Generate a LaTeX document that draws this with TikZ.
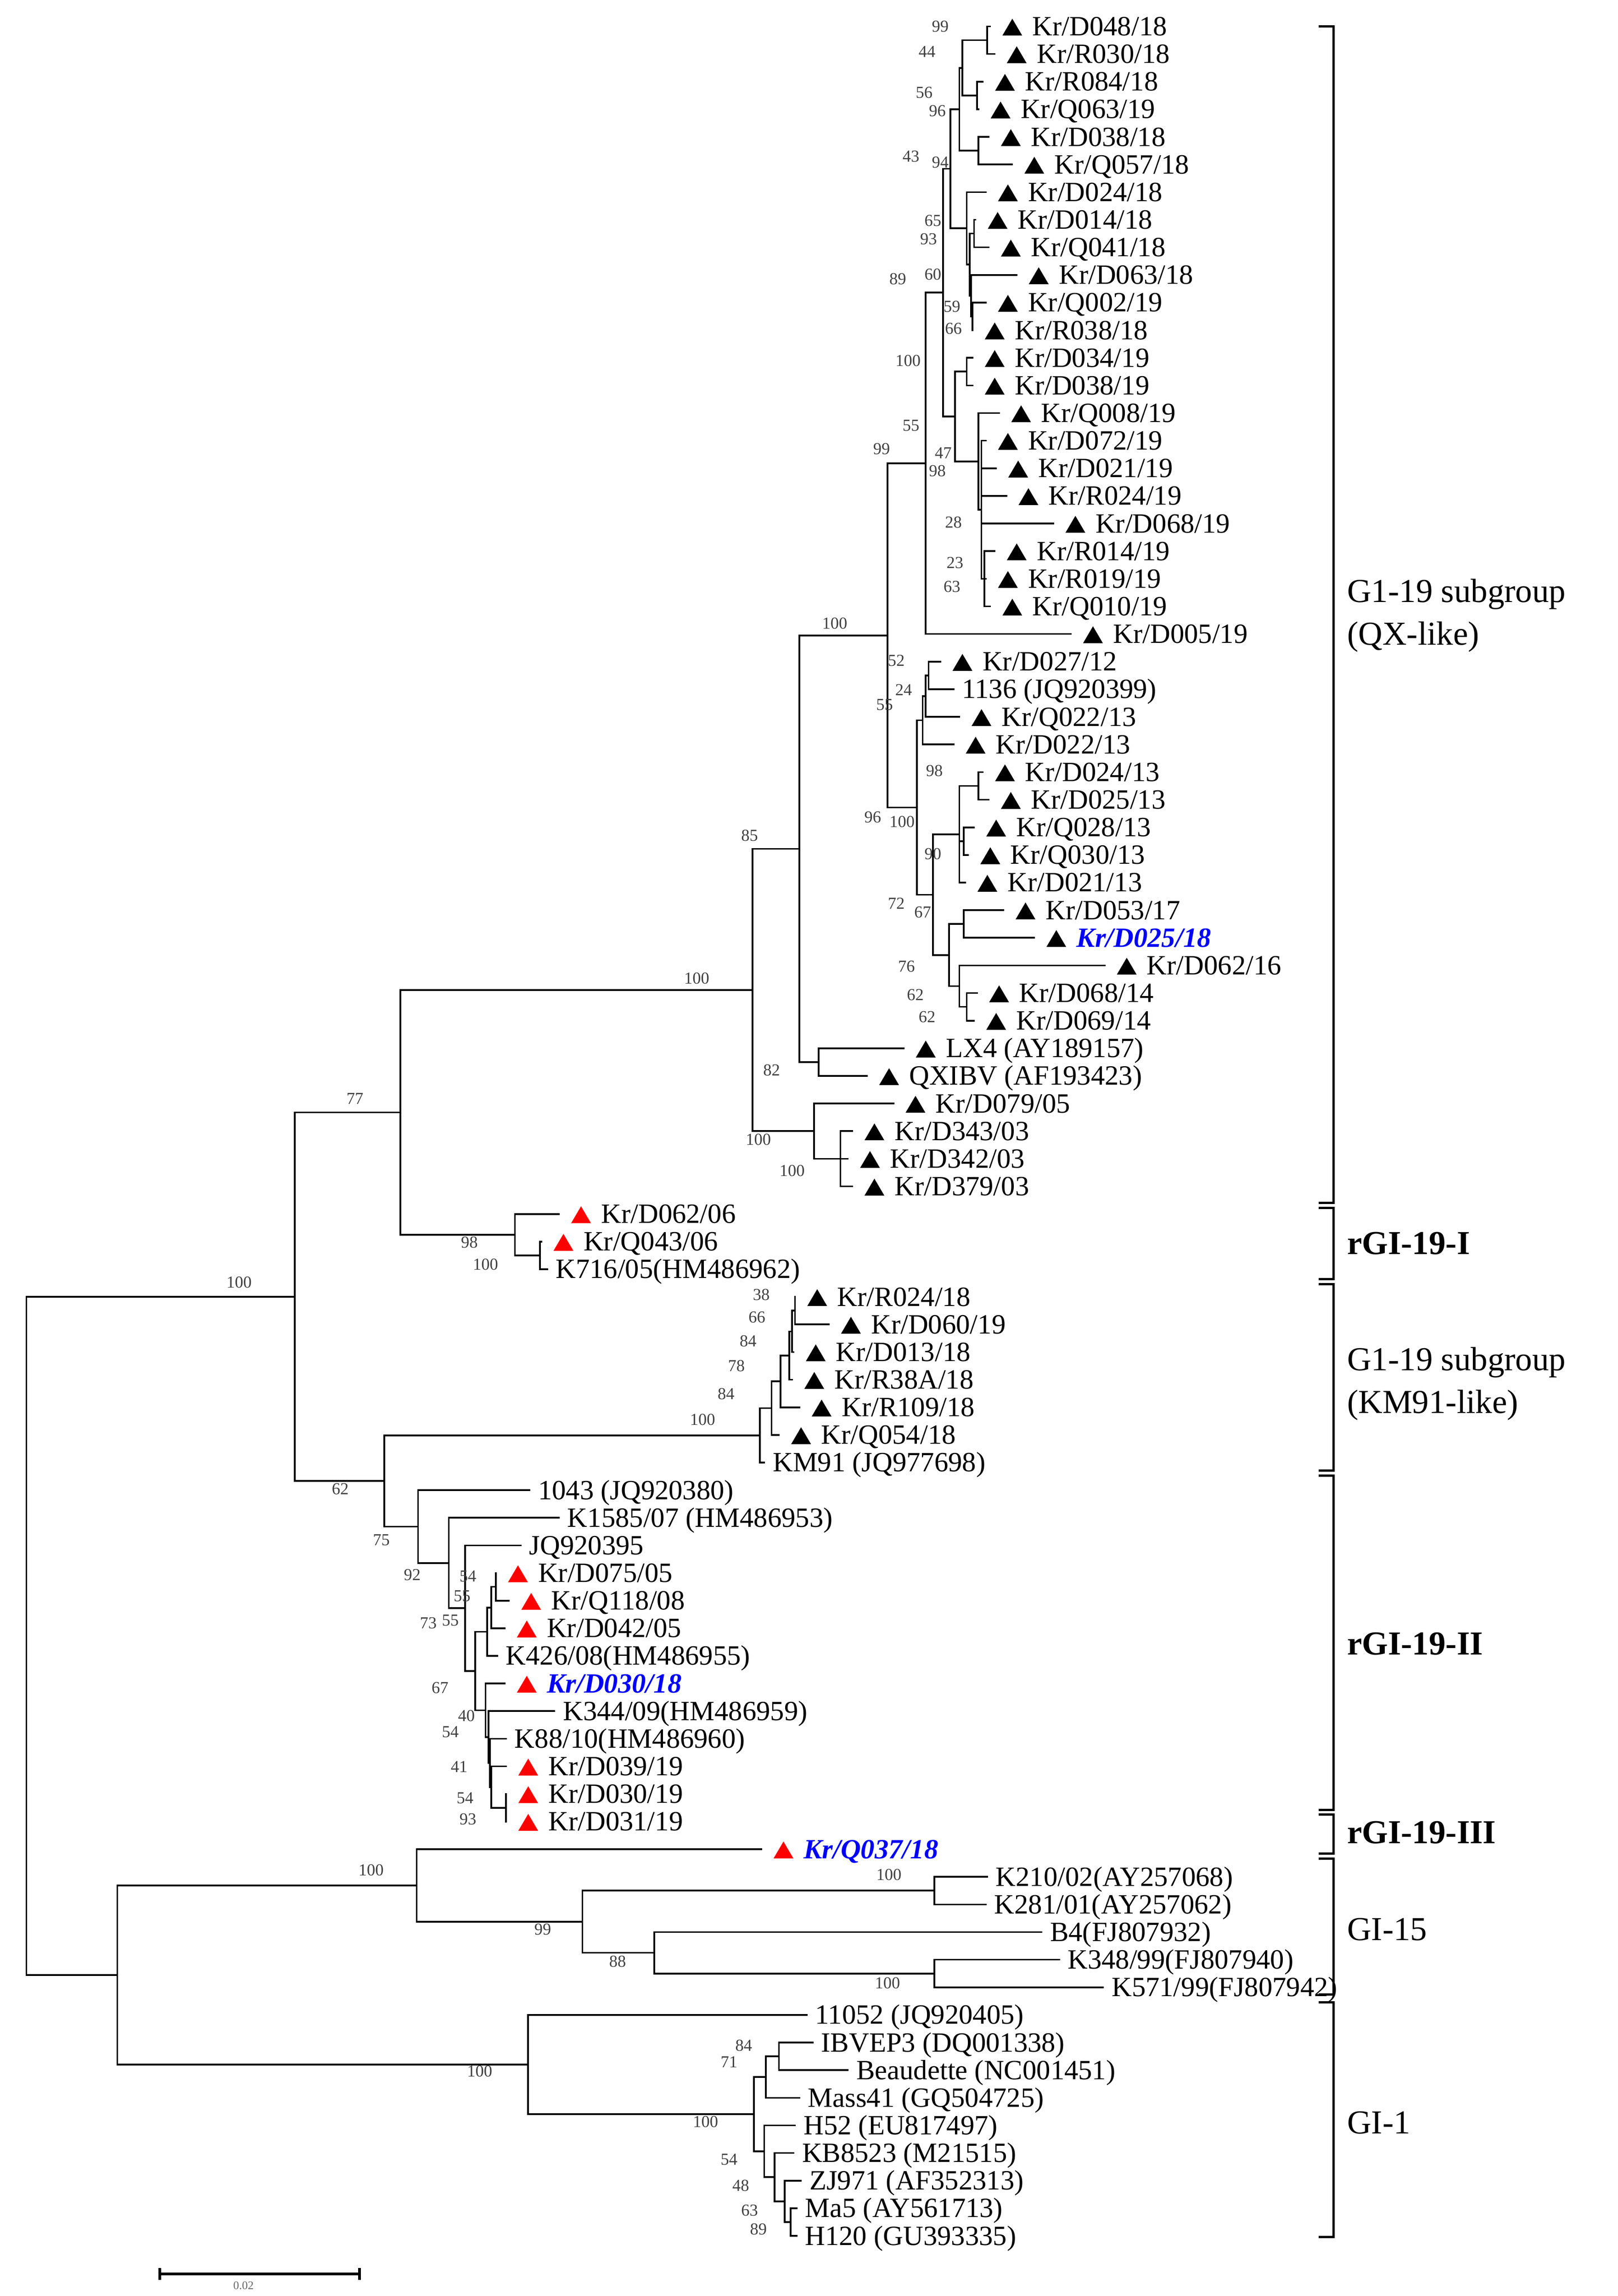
\documentclass[tikz,border=0pt]{standalone}
\usepackage{fontspec}
\setmainfont{Liberation Serif}
\usepackage{tikz}

\newcommand{\leaffont}{\fontsize{10.8pt}{12pt}\selectfont}
\newcommand{\bsfont}{\fontsize{6.5pt}{7pt}\selectfont}
\newcommand{\cladefont}{\fontsize{13pt}{16.5pt}\selectfont}
\newcommand{\tri}[1]{\tikz[baseline=0pt]\fill[#1] (0mm,0mm) -- (2.7mm,0mm) -- (1.35mm,2.3mm) -- cycle;}
\newcommand{\blk}{\hspace*{1.6mm}\tri{black}\hspace*{1.4mm}}
\newcommand{\redt}{\hspace*{1.6mm}\tri{red}\hspace*{1.4mm}}
\newcommand{\nomark}{\hspace*{1.1mm}}
\newcommand{\bluetxt}[1]{\textcolor{blue}{\bfseries\itshape #1}}

\tikzset{
  branch/.style={line width=0.65pt, line cap=rect},
  leaf/.style={anchor=west, inner sep=0pt, font=\leaffont, text height=2.5mm, text depth=0pt},
  bs/.style={font=\bsfont, text=black!75, inner sep=0pt},
  clade/.style={anchor=west, font=\cladefont, align=left, inner sep=0pt},
  bracket/.style={line width=0.9pt},
}

\begin{document}
\begin{tikzpicture}[x=0.2mm, y=-3.765mm]
\useasboundingbox (0,0.0438) rectangle (1103,83.178);

% leaves, one row each
\node[leaf] (l1) at (675,1) {\blk Kr/D048/18};
\node[leaf] (l2) at (678,2) {\blk Kr/R030/18};
\node[leaf] (l3) at (670,3) {\blk Kr/R084/18};
\node[leaf] (l4) at (667,4) {\blk Kr/Q063/19};
\node[leaf] (l5) at (674,5) {\blk Kr/D038/18};
\node[leaf] (l6) at (690,6) {\blk Kr/Q057/18};
\node[leaf] (l7) at (672,7) {\blk Kr/D024/18};
\node[leaf] (l8) at (665,8) {\blk Kr/D014/18};
\node[leaf] (l9) at (674,9) {\blk Kr/Q041/18};
\node[leaf] (l10) at (693,10) {\blk Kr/D063/18};
\node[leaf] (l11) at (672,11) {\blk Kr/Q002/19};
\node[leaf] (l12) at (663,12) {\blk Kr/R038/18};
\node[leaf] (l13) at (663,13) {\blk Kr/D034/19};
\node[leaf] (l14) at (663,14) {\blk Kr/D038/19};
\node[leaf] (l15) at (681,15) {\blk Kr/Q008/19};
\node[leaf] (l16) at (672,16) {\blk Kr/D072/19};
\node[leaf] (l17) at (679,17) {\blk Kr/D021/19};
\node[leaf] (l18) at (686,18) {\blk Kr/R024/19};
\node[leaf] (l19) at (718,19) {\blk Kr/D068/19};
\node[leaf] (l20) at (678,20) {\blk Kr/R014/19};
\node[leaf] (l21) at (672,21) {\blk Kr/R019/19};
\node[leaf] (l22) at (675,22) {\blk Kr/Q010/19};
\node[leaf] (l23) at (730,23) {\blk Kr/D005/19};
\node[leaf] (l24) at (641,24) {\blk Kr/D027/12};
\node[leaf] (l25) at (650,25) {\nomark 1136 (JQ920399)};
\node[leaf] (l26) at (654,26) {\blk Kr/Q022/13};
\node[leaf] (l27) at (650,27) {\blk Kr/D022/13};
\node[leaf] (l28) at (670,28) {\blk Kr/D024/13};
\node[leaf] (l29) at (674,29) {\blk Kr/D025/13};
\node[leaf] (l30) at (664,30) {\blk Kr/Q028/13};
\node[leaf] (l31) at (660,31) {\blk Kr/Q030/13};
\node[leaf] (l32) at (658,32) {\blk Kr/D021/13};
\node[leaf] (l33) at (684,33) {\blk Kr/D053/17};
\node[leaf] (l34) at (705,34) {\blk \bluetxt{Kr/D025/18}};
\node[leaf] (l35) at (753,35) {\blk Kr/D062/16};
\node[leaf] (l36) at (666,36) {\blk Kr/D068/14};
\node[leaf] (l37) at (664,37) {\blk Kr/D069/14};
\node[leaf] (l38) at (616,38) {\blk LX4 (AY189157)};
\node[leaf] (l39) at (591,39) {\blk QXIBV (AF193423)};
\node[leaf] (l40) at (609,40) {\blk Kr/D079/05};
\node[leaf] (l41) at (581,41) {\blk Kr/D343/03};
\node[leaf] (l42) at (578,42) {\blk Kr/D342/03};
\node[leaf] (l43) at (581,43) {\blk Kr/D379/03};
\node[leaf] (l44) at (381,44) {\redt Kr/D062/06};
\node[leaf] (l45) at (369,45) {\redt Kr/Q043/06};
\node[leaf] (l46) at (373,46) {\nomark K716/05(HM486962)};
\node[leaf] (l47) at (542,47) {\blk Kr/R024/18};
\node[leaf] (l48) at (565,48) {\blk Kr/D060/19};
\node[leaf] (l49) at (541,49) {\blk Kr/D013/18};
\node[leaf] (l50) at (540,50) {\blk Kr/R38A/18};
\node[leaf] (l51) at (545,51) {\blk Kr/R109/18};
\node[leaf] (l52) at (531,52) {\blk Kr/Q054/18};
\node[leaf] (l53) at (521,53) {\nomark KM91 (JQ977698)};
\node[leaf] (l54) at (361,54) {\nomark 1043 (JQ920380)};
\node[leaf] (l55) at (381,55) {\nomark K1585/07 (HM486953)};
\node[leaf] (l56) at (355,56) {\nomark JQ920395};
\node[leaf] (l57) at (338,57) {\redt Kr/D075/05};
\node[leaf] (l58) at (347,58) {\redt Kr/Q118/08};
\node[leaf] (l59) at (344,59) {\redt Kr/D042/05};
\node[leaf] (l60) at (339,60) {\nomark K426/08(HM486955)};
\node[leaf] (l61) at (344,61) {\redt \bluetxt{Kr/D030/18}};
\node[leaf] (l62) at (378,62) {\nomark K344/09(HM486959)};
\node[leaf] (l63) at (345,63) {\nomark K88/10(HM486960)};
\node[leaf] (l64) at (345,64) {\redt Kr/D039/19};
\node[leaf] (l65) at (345,65) {\redt Kr/D030/19};
\node[leaf] (l66) at (345,66) {\redt Kr/D031/19};
\node[leaf] (l67) at (519,67) {\redt \bluetxt{Kr/Q037/18}};
\node[leaf] (l68) at (673,68) {\nomark K210/02(AY257068)};
\node[leaf] (l69) at (672,69) {\nomark K281/01(AY257062)};
\node[leaf] (l70) at (710,70) {\nomark B4(FJ807932)};
\node[leaf] (l71) at (722,71) {\nomark K348/99(FJ807940)};
\node[leaf] (l72) at (752,72) {\nomark K571/99(FJ807942)};
\node[leaf] (l73) at (550,73) {\nomark 11052 (JQ920405)};
\node[leaf] (l74) at (554,74) {\nomark IBVEP3 (DQ001338)};
\node[leaf] (l75) at (578,75) {\nomark Beaudette (NC001451)};
\node[leaf] (l76) at (545,76) {\nomark Mass41 (GQ504725)};
\node[leaf] (l77) at (542,77) {\nomark H52 (EU817497)};
\node[leaf] (l78) at (541,78) {\nomark KB8523 (M21515)};
\node[leaf] (l79) at (546,79) {\nomark ZJ971 (AF352313)};
\node[leaf] (l80) at (543,80) {\nomark Ma5 (AY561713)};
\node[leaf] (l81) at (543,81) {\nomark H120 (GU393335)};

% inner nodes of the QX-like clade
\coordinate (na) at (673,1.5);
\coordinate (nb) at (666,3.5);
\coordinate (nc) at (656,2.5);
\coordinate (nd) at (667,5.5);
\coordinate (nf) at (654,4);
\coordinate (qi) at (664,8.5);
\coordinate (qk) at (663,11.5);
\coordinate (qj) at (662,10.75);
\coordinate (qh) at (661,9.625);
\coordinate (qg) at (659,8.31);
\coordinate (qd) at (648,6.156);
\coordinate (ql) at (659,13.5);
\coordinate (qr) at (671,21);
\coordinate (qn) at (669,18.5);
\coordinate (qm) at (667,16.75);
\coordinate (qe) at (651,15.125);
\coordinate (qc) at (643,10.64);
\coordinate (qa) at (631,16.82);
\coordinate (qv) at (633,24.5);
\coordinate (qu) at (631,25.25);
\coordinate (qs) at (629,26.125);
\coordinate (qy) at (667,28.5);
\coordinate (qz) at (657,30.5);
\coordinate (qw) at (654,30.25);
\coordinate (qaa) at (657,33.5);
\coordinate (qac) at (659,36.5);
\coordinate (qab) at (654,35.75);
\coordinate (qx) at (647,34.625);
\coordinate (qt) at (636,32.44);
\coordinate (qb) at (625,29.28);
\coordinate (q2) at (605,23.05);
\coordinate (lx) at (558,38.5);
\coordinate (q1) at (545,30.78);
\coordinate (q4) at (573,42);
\coordinate (q3) at (555,41);
\coordinate (q0) at (513,35.89);
% rGI-19-I, KM91-like, rGI-19-II
\coordinate (g2) at (368,45.5);
\coordinate (g1) at (351,44.75);
\coordinate (nqx) at (273,40.32);
\coordinate (k7) at (542,47.5);
\coordinate (k6) at (540,48.25);
\coordinate (k5) at (538,49.125);
\coordinate (k4) at (532,50.06);
\coordinate (k3) at (526,51.03);
\coordinate (k1) at (518,52.02);
\coordinate (k14) at (338,57.5);
\coordinate (k13) at (335,58.25);
\coordinate (k11) at (332,59.125);
\coordinate (k16) at (345,65.5);
\coordinate (k18) at (335,64.75);
\coordinate (k17) at (334,63.875);
\coordinate (k15) at (333,62.94);
\coordinate (k12) at (331,61.97);
\coordinate (k10) at (324,60.55);
\coordinate (k9) at (317,58.27);
\coordinate (k8) at (306,56.64);
\coordinate (k2) at (285,55.32);
\coordinate (nkm) at (262,53.67);
\coordinate (ntop) at (201,47.0);
% GI-15, rGI-19-III, GI-1
\coordinate (g5) at (637,68.5);
\coordinate (g7) at (637,71.5);
\coordinate (g6) at (446,70.75);
\coordinate (g4) at (397,69.625);
\coordinate (g3) at (284,68.31);
\coordinate (g12) at (531,74.5);
\coordinate (g10) at (522,75.25);
\coordinate (g15) at (539,80.5);
\coordinate (g14) at (535,79.75);
\coordinate (g13) at (528,78.875);
\coordinate (g11) at (521,77.94);
\coordinate (g9) at (514,76.59);
\coordinate (g8) at (360,74.8);
\coordinate (nbot) at (80,71.55);
\coordinate (root) at (18,59.27);

% branches
\draw[branch] (na) |- (l1.west) (na) |- (l2.west);
\draw[branch] (nb) |- (l3.west) (nb) |- (l4.west);
\draw[branch] (nc) |- (na) (nc) |- (nb);
\draw[branch] (nd) |- (l5.west) (nd) |- (l6.west);
\draw[branch] (nf) |- (nc) (nf) |- (nd);
\draw[branch] (qi) |- (l8.west) (qi) |- (l9.west);
\draw[branch] (qk) |- (l11.west) (qk) |- (l12.west);
\draw[branch] (qj) |- (l10.west) (qj) |- (qk);
\draw[branch] (qh) |- (qi) (qh) |- (qj);
\draw[branch] (qg) |- (l7.west) (qg) |- (qh);
\draw[branch] (qd) |- (nf) (qd) |- (qg);
\draw[branch] (ql) |- (l13.west) (ql) |- (l14.west);
\draw[branch] (qr) |- (l20.west) (qr) |- (l21.west) (qr) |- (l22.west);
\draw[branch] (qn) |- (l16.west) (qn) |- (l17.west) (qn) |- (l18.west) (qn) |- (l19.west) (qn) |- (qr);
\draw[branch] (qm) |- (l15.west) (qm) |- (qn);
\draw[branch] (qe) |- (ql) (qe) |- (qm);
\draw[branch] (qc) |- (qd) (qc) |- (qe);
\draw[branch] (qa) |- (qc) (qa) |- (l23.west);
\draw[branch] (qv) |- (l24.west) (qv) |- (l25.west);
\draw[branch] (qu) |- (qv) (qu) |- (l26.west);
\draw[branch] (qs) |- (qu) (qs) |- (l27.west);
\draw[branch] (qy) |- (l28.west) (qy) |- (l29.west);
\draw[branch] (qz) |- (l30.west) (qz) |- (l31.west);
\draw[branch] (qw) |- (qy) (qw) |- (qz) (qw) |- (l32.west);
\draw[branch] (qaa) |- (l33.west) (qaa) |- (l34.west);
\draw[branch] (qac) |- (l36.west) (qac) |- (l37.west);
\draw[branch] (qab) |- (l35.west) (qab) |- (qac);
\draw[branch] (qx) |- (qaa) (qx) |- (qab);
\draw[branch] (qt) |- (qw) (qt) |- (qx);
\draw[branch] (qb) |- (qs) (qb) |- (qt);
\draw[branch] (q2) |- (qa) (q2) |- (qb);
\draw[branch] (lx) |- (l38.west) (lx) |- (l39.west);
\draw[branch] (q1) |- (q2) (q1) |- (lx);
\draw[branch] (q4) |- (l41.west) (q4) |- (l42.west) (q4) |- (l43.west);
\draw[branch] (q3) |- (l40.west) (q3) |- (q4);
\draw[branch] (q0) |- (q1) (q0) |- (q3);
\draw[branch] (g2) |- (l45.west) (g2) |- (l46.west);
\draw[branch] (g1) |- (l44.west) (g1) |- (g2);
\draw[branch] (nqx) |- (q0) (nqx) |- (g1);
\draw[branch] (k7) |- (l47.west) (k7) |- (l48.west);
\draw[branch] (k6) |- (k7) (k6) |- (l49.west);
\draw[branch] (k5) |- (k6) (k5) |- (l50.west);
\draw[branch] (k4) |- (k5) (k4) |- (l51.west);
\draw[branch] (k3) |- (k4) (k3) |- (l52.west);
\draw[branch] (k1) |- (k3) (k1) |- (l53.west);
\draw[branch] (k14) |- (l57.west) (k14) |- (l58.west);
\draw[branch] (k13) |- (k14) (k13) |- (l59.west);
\draw[branch] (k11) |- (k13) (k11) |- (l60.west);
\draw[branch] (k16) |- (l65.west) (k16) |- (l66.west);
\draw[branch] (k18) |- (l64.west) (k18) |- (k16);
\draw[branch] (k17) |- (l63.west) (k17) |- (k18);
\draw[branch] (k15) |- (l62.west) (k15) |- (k17);
\draw[branch] (k12) |- (l61.west) (k12) |- (k15);
\draw[branch] (k10) |- (k11) (k10) |- (k12);
\draw[branch] (k9) |- (l56.west) (k9) |- (k10);
\draw[branch] (k8) |- (l55.west) (k8) |- (k9);
\draw[branch] (k2) |- (l54.west) (k2) |- (k8);
\draw[branch] (nkm) |- (k1) (nkm) |- (k2);
\draw[branch] (ntop) |- (nqx) (ntop) |- (nkm);
\draw[branch] (g5) |- (l68.west) (g5) |- (l69.west);
\draw[branch] (g7) |- (l71.west) (g7) |- (l72.west);
\draw[branch] (g6) |- (l70.west) (g6) |- (g7);
\draw[branch] (g4) |- (g5) (g4) |- (g6);
\draw[branch] (g3) |- (l67.west) (g3) |- (g4);
\draw[branch] (g12) |- (l74.west) (g12) |- (l75.west);
\draw[branch] (g10) |- (g12) (g10) |- (l76.west);
\draw[branch] (g15) |- (l80.west) (g15) |- (l81.west);
\draw[branch] (g14) |- (l79.west) (g14) |- (g15);
\draw[branch] (g13) |- (l78.west) (g13) |- (g14);
\draw[branch] (g11) |- (l77.west) (g11) |- (g13);
\draw[branch] (g9) |- (g10) (g9) |- (g11);
\draw[branch] (g8) |- (l73.west) (g8) |- (g9);
\draw[branch] (nbot) |- (g3) (nbot) |- (g8);
\draw[branch] (root) |- (ntop) (root) |- (nbot);

% bootstrap values
\node[bs] (b1) at (641,1.00) {99};
\node[bs] (b2) at (632,1.91) {44};
\node[bs] (b3) at (630,3.39) {56};
\node[bs] (b4) at (639,4.06) {96};
\node[bs] (b5) at (621,5.71) {43};
\node[bs] (b6) at (641,5.93) {94};
\node[bs] (b7) at (636,8.04) {65};
\node[bs] (b8) at (633,8.70) {93};
\node[bs] (b9) at (636,9.98) {60};
\node[bs] (b10) at (612,10.14) {89};
\node[bs] (b11) at (649,11.15) {59};
\node[bs] (b12) at (650,11.94) {66};
\node[bs] (b13) at (619,13.10) {100};
\node[bs] (b14) at (621,15.45) {55};
\node[bs] (b15) at (601,16.30) {99};
\node[bs] (b16) at (643,16.44) {47};
\node[bs] (b17) at (639,17.10) {98};
\node[bs] (b18) at (650,18.95) {28};
\node[bs] (b19) at (651,20.42) {23};
\node[bs] (b20) at (649,21.29) {63};
\node[bs] (b21) at (569,22.62) {100};
\node[bs] (b22) at (611,23.97) {52};
\node[bs] (b23) at (616,25.03) {24};
\node[bs] (b24) at (603,25.56) {55};
\node[bs] (b25) at (637,27.95) {98};
\node[bs] (b26) at (595,29.63) {96};
\node[bs] (b27) at (615,29.79) {100};
\node[bs] (b28) at (511,30.29) {85};
\node[bs] (b29) at (636,30.96) {90};
\node[bs] (b30) at (611,32.76) {72};
\node[bs] (b31) at (629,33.07) {67};
\node[bs] (b32) at (618,35.03) {76};
\node[bs] (b33) at (624,36.06) {62};
\node[bs] (b34) at (632,36.86) {62};
\node[bs] (b35) at (475,35.47) {100};
\node[bs] (b36) at (526,38.79) {82};
\node[bs] (b37) at (517,41.30) {100};
\node[bs] (b38) at (540,42.43) {100};
\node[bs] (b39) at (242,39.82) {77};
\node[bs] (b40) at (320,45.02) {98};
\node[bs] (b41) at (331,45.82) {100};
\node[bs] (b42) at (163,46.47) {100};
\node[bs] (b43) at (519,46.93) {38};
\node[bs] (b44) at (516,47.74) {66};
\node[bs] (b45) at (510,48.60) {84};
\node[bs] (b46) at (502,49.50) {78};
\node[bs] (b47) at (495,50.51) {84};
\node[bs] (b48) at (479,51.45) {100};
\node[bs] (b49) at (232,53.96) {62};
\node[bs] (b50) at (260,55.81) {75};
\node[bs] (b51) at (281,57.07) {92};
\node[bs] (b52) at (319,57.12) {54};
\node[bs] (b53) at (315,57.84) {55};
\node[bs] (b54) at (292,58.82) {73};
\node[bs] (b55) at (307,58.72) {55};
\node[bs] (b56) at (300,61.15) {67};
\node[bs] (b57) at (318,62.17) {40};
\node[bs] (b58) at (307,62.76) {54};
\node[bs] (b59) at (313,64.02) {41};
\node[bs] (b60) at (317,65.14) {54};
\node[bs] (b61) at (319,65.91) {93};
\node[bs] (b62) at (253,67.75) {100};
\node[bs] (b63) at (606,67.92) {100};
\node[bs] (b64) at (370,69.90) {99};
\node[bs] (b65) at (421,71.07) {88};
\node[bs] (b66) at (605,71.84) {100};
\node[bs] (b67) at (507,74.10) {84};
\node[bs] (b68) at (497,74.71) {71};
\node[bs] (b69) at (327,75.04) {100};
\node[bs] (b70) at (481,76.86) {100};
\node[bs] (b71) at (497,78.24) {54};
\node[bs] (b72) at (505,79.18) {48};
\node[bs] (b73) at (511,80.07) {63};
\node[bs] (b74) at (517,80.76) {89};

% clade brackets and names
\draw[bracket] (899,1.0) -- (909,1.0) -- (909,43.6) -- (899,43.6);
\draw[bracket] (899,43.78) -- (909,43.78) -- (909,46.36) -- (899,46.36);
\draw[bracket] (899,46.54) -- (909,46.54) -- (909,53.29) -- (899,53.29);
\draw[bracket] (899,53.47) -- (909,53.47) -- (909,65.57) -- (899,65.57);
\draw[bracket] (899,65.75) -- (909,65.75) -- (909,67.16) -- (899,67.16);
\draw[bracket] (899,67.34) -- (909,67.34) -- (909,72.26) -- (899,72.26);
\draw[bracket] (899,72.55) -- (909,72.55) -- (909,81.04) -- (899,81.04);
\node[clade] (c1) at (918,22.33) {G1-19 subgroup\\(QX-like)};
\node[clade] (c2) at (918,45.07) {\bfseries rGI-19-I};
\node[clade] (c3) at (918,50.15) {G1-19 subgroup\\(KM91-like)};
\node[clade] (c4) at (918,59.57) {\bfseries rGI-19-II};
\node[clade] (c5) at (918,66.4) {\bfseries rGI-19-III};
\node[clade] (c6) at (918,69.9) {GI-15};
\node[clade] (c7) at (918,76.9) {GI-1};

% scale bar
\coordinate (s0) at (109,82.38);
\coordinate (s1) at (245,82.38);
\draw[line width=1pt] (s0) -- (s1);
\draw[line width=1pt] ([yshift=0.8mm]s0) -- ([yshift=-0.8mm]s0);
\draw[line width=1pt] ([yshift=0.8mm]s1) -- ([yshift=-0.8mm]s1);
\node[font=\fontsize{4.5pt}{5pt}\selectfont, text=black!60, inner sep=0pt] (sl) at (166,82.8) {0.02};
\end{tikzpicture}
\end{document}
